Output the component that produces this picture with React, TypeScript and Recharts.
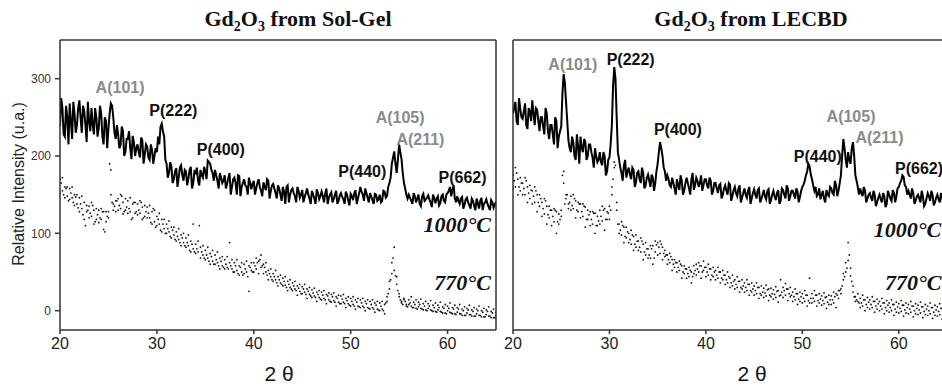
import React from 'react';
import { ComposedChart, Line, XAxis, YAxis, ReferenceDot } from 'recharts';

// XRD scans, sampled every 0.25° from 2θ = 20 to 65
const THETA_START = 20;
const THETA_STEP = 0.25;

const solGel1000 = [
  238, 262, 225, 250, 268, 222, 255, 240, 272, 230, 258, 218, 245, 262, 228, 250,
  236, 255, 215, 245, 236, 268, 250, 222, 228, 214, 232, 205, 222, 210, 226, 200,
  215, 198, 220, 202, 212, 195, 208, 200, 205, 215, 242, 225, 190, 178, 186, 170,
  184, 172, 188, 168, 180, 170, 186, 165, 178, 168, 182, 172, 180, 194, 190, 178,
  182, 168, 178, 165, 175, 164, 178, 160, 172, 150, 174, 160, 170, 160, 172, 157,
  168, 158, 170, 155, 166, 156, 168, 154, 164, 152, 162, 150, 160, 138, 162, 150,
  158, 148, 160, 146, 156, 147, 158, 145, 155, 145, 157, 144, 154, 140, 158, 146,
  153, 144, 155, 142, 152, 144, 154, 142, 151, 143, 156, 145, 160, 150, 158, 146,
  152, 143, 151, 142, 150, 142, 154, 148, 165, 190, 206, 178, 215, 196, 165, 150,
  150, 142, 152, 140, 150, 135, 151, 144, 149, 140, 150, 139, 148, 139, 150, 140,
  152, 160, 156, 145, 148, 138, 147, 137, 146, 136, 145, 135, 145, 132, 146, 138,
  144, 134, 143, 133, 141,
];

// 1000°C readings half-way between the grid points (20.125 ... 64.875)
const solGel1000Half = [
  275, 228, 265, 215, 245, 270, 230, 262, 250, 265, 240, 270, 232, 240, 262, 225,
  265, 225, 250, 210, 255, 265, 230, 240, 210, 238, 200, 222, 232, 196, 218, 210,
  205, 224, 190, 215, 198, 215, 190, 210, 225, 238, 232, 195, 172, 192, 165, 180,
  160, 185, 175, 182, 162, 182, 158, 180, 185, 162, 175, 186, 170, 192, 182, 168,
  175, 158, 172, 168, 158, 172, 150, 170, 165, 175, 148, 165, 162, 150, 165, 164,
  150, 165, 160, 148, 160, 170, 145, 162, 158, 145, 158, 142, 154, 160, 140, 156,
  152, 140, 155, 150, 140, 152, 150, 138, 150, 138, 152, 148, 148, 152, 138, 150,
  140, 150, 138, 149, 147, 138, 150, 136, 148, 152, 138, 152, 154, 142, 152, 140,
  148, 138, 150, 144, 140, 155, 146, 160, 172, 198, 190, 195, 205, 178, 158, 145,
  146, 138, 148, 145, 138, 148, 142, 146, 144, 134, 146, 145, 136, 148, 142, 150,
  155, 148, 162, 140, 142, 145, 132, 144, 140, 132, 142, 130, 139, 142, 130, 140,
  138, 130, 140, 137,
];

const solGel770a = [
  170, 155, 160, 148, 158, 146, 150, 138, 146, 132, 140, 128, 135, 122, 130, 118,
  130, 118, 128, 115, 128, 150, 138, 128, 145, 132, 140, 130, 142, 128, 138, 126,
  138, 126, 134, 122, 134, 120, 128, 115, 122, 112, 118, 106, 112, 102, 108, 98,
  102, 92, 98, 88, 94, 84, 90, 80, 86, 76, 82, 72, 78, 68, 74, 64,
  72, 62, 68, 58, 66, 56, 62, 54, 62, 52, 58, 50, 60, 50, 58, 52,
  62, 54, 64, 56, 60, 50, 52, 44, 48, 40, 44, 36, 42, 33, 38, 30,
  36, 28, 32, 25, 31, 24, 28, 21, 27, 19, 24, 17, 24, 16, 21, 14,
  21, 13, 18, 11, 19, 11, 16, 9, 16, 8, 14, 6, 14, 6, 12, 4,
  12, 4, 10, 2, 10, 2, 8, 12, 28, 48, 52, 34, 18, 10, 14, 6,
  14, 6, 11, 3, 11, 3, 9, 1, 9, 1, 7, -1, 7, -1, 5, -3,
  6, -2, 4, -4, 4, -4, 2, -6, 3, -5, 1, -7, 2, -6, 0, -8,
  1, -7, -1, -9, -2,
];

const solGel770b = [
  152, 172, 146, 160, 144, 160, 136, 150, 128, 148, 118, 136, 120, 140, 112, 132,
  114, 132, 105, 128, 120, 182, 130, 142, 130, 150, 125, 145, 126, 146, 120, 140,
  124, 142, 118, 136, 120, 136, 112, 130, 110, 126, 102, 118, 100, 116, 94, 108,
  90, 106, 84, 100, 82, 98, 76, 112, 74, 90, 68, 84, 66, 82, 60, 78,
  60, 76, 54, 70, 54, 70, 88, 66, 50, 66, 46, 62, 48, 64, 25, 62,
  50, 68, 48, 72, 48, 62, 40, 54, 38, 52, 32, 46, 32, 44, 26, 40,
  26, 38, 20, 34, 22, 34, 16, 30, 17, 29, 12, 26, 14, 26, 9, 23,
  11, 23, 6, 20, 9, 21, 4, 18, 6, 18, 2, 16, 4, 16, 0, 14,
  2, 14, -2, 12, 0, 12, -4, 18, 38, 62, 82, 44, 22, 12, 16, 8,
  8, 18, 4, 14, 5, 15, 1, 12, 3, 13, -1, 10, 1, 11, -3, 8,
  0, 10, -4, 7, -2, 8, -6, 5, -3, 7, -7, 4, -4, 6, -8, 3,
  -5, 5, -9, 2, -6,
];

// extra 770°C readings half-way between the grid points (20.125 ... 64.875)
const solGel770c = [
  165, 150, 158, 142, 152, 140, 147, 133, 138, 124, 110, 130, 126, 136, 115, 124,
  120, 128, 102, 122, 190, 140, 135, 142, 136, 148, 128, 134, 132, 118, 140, 128,
  130, 140, 120, 128, 126, 114, 132, 108, 118, 104, 112, 100, 106, 96, 104, 92,
  96, 88, 94, 84, 88, 78, 86, 76, 80, 110, 76, 68, 72, 64, 70, 60,
  66, 58, 64, 56, 60, 54, 58, 50, 58, 48, 56, 46, 54, 44, 56, 50,
  58, 62, 66, 58, 56, 46, 48, 40, 44, 36, 40, 34, 38, 30, 34, 28,
  32, 26, 29, 22, 28, 21, 25, 19, 23, 17, 21, 15, 20, 14, 19, 12,
  18, 11, 16, 9, 15, 9, 13, 7, 12, 6, 11, 5, 10, 4, 9, 3,
  8, 2, 7, 1, 6, 0, 10, 22, 40, 68, 45, 26, 14, 8, 12, 5,
  10, 4, 8, 2, 8, 2, 6, 0, 6, 0, 4, -2, 4, -2, 3, -4,
  3, -3, 2, -5, 2, -4, 0, -6, 1, -5, -1, -7, 0, -6, -2, -8,
  -1, -7, -3, -9,
];

const lecbd1000 = [
  255, 270, 240, 262, 248, 268, 235, 258, 272, 240, 260, 232, 250, 228, 255, 222,
  240, 215, 245, 225, 238, 306, 270, 220, 205, 218, 195, 212, 225, 205, 218, 200,
  215, 198, 210, 192, 205, 188, 200, 180, 198, 240, 315, 250, 195, 178, 188, 172,
  185, 170, 182, 166, 180, 165, 178, 162, 176, 160, 172, 165, 190, 218, 200, 180,
  175, 162, 172, 158, 170, 156, 168, 155, 172, 158, 170, 156, 172, 160, 175, 162,
  170, 158, 168, 155, 165, 152, 164, 150, 162, 150, 163, 148, 160, 148, 162, 146,
  158, 146, 160, 145, 157, 145, 158, 144, 156, 144, 157, 143, 155, 143, 156, 142,
  156, 145, 158, 148, 155, 145, 154, 147, 160, 168, 180, 187, 170, 155, 148, 158,
  150, 145, 156, 148, 158, 150, 162, 155, 175, 222, 195, 205, 190, 218, 175, 160,
  158, 148, 155, 145, 152, 142, 150, 140, 150, 140, 148, 138, 150, 142, 152, 148,
  160, 168, 173, 160, 155, 145, 152, 142, 150, 140, 148, 138, 152, 142, 150, 140,
  150, 140, 148, 138, 145,
];

const lecbd1000Half = [
  262, 245, 275, 250, 258, 240, 262, 245, 255, 262, 245, 250, 238, 262, 232, 240,
  228, 250, 210, 232, 280, 295, 245, 210, 225, 200, 228, 190, 210, 222, 195, 215,
  205, 185, 200, 195, 192, 205, 175, 195, 215, 290, 300, 205, 185, 168, 195, 180,
  176, 185, 160, 178, 170, 185, 158, 172, 168, 176, 155, 180, 205, 210, 185, 168,
  170, 160, 165, 150, 162, 175, 150, 165, 165, 150, 178, 162, 168, 165, 155, 170,
  162, 172, 150, 165, 158, 162, 145, 158, 155, 165, 142, 156, 152, 158, 140, 152,
  150, 155, 138, 152, 150, 156, 140, 150, 148, 155, 138, 150, 148, 152, 138, 158,
  150, 162, 142, 155, 150, 158, 140, 155, 163, 175, 190, 176, 162, 160, 150, 144,
  155, 140, 150, 160, 152, 168, 148, 165, 200, 210, 185, 195, 210, 200, 168, 150,
  152, 160, 140, 150, 146, 155, 135, 146, 144, 152, 134, 155, 145, 156, 140, 158,
  165, 175, 162, 150, 150, 158, 138, 148, 145, 155, 135, 145, 148, 155, 136, 146,
  144, 152, 135, 142,
];

const lecbd770a = [
  175, 160, 170, 155, 165, 150, 160, 145, 155, 140, 150, 135, 140, 125, 135, 120,
  130, 115, 128, 112, 130, 165, 145, 132, 148, 132, 142, 128, 138, 122, 134, 118,
  128, 112, 126, 110, 130, 116, 132, 118, 135, 160, 185, 130, 112, 98, 108, 94,
  100, 86, 96, 82, 90, 76, 86, 72, 80, 68, 84, 76, 88, 74, 82, 70,
  72, 62, 66, 56, 62, 52, 58, 48, 54, 44, 50, 48, 60, 50, 58, 52,
  56, 46, 54, 44, 52, 42, 50, 40, 46, 36, 42, 32, 40, 30, 38, 28,
  36, 26, 34, 24, 32, 22, 30, 20, 29, 19, 28, 18, 27, 17, 26, 20,
  30, 20, 28, 18, 24, 14, 22, 12, 22, 12, 20, 10, 22, 12, 20, 10,
  19, 9, 18, 8, 19, 10, 22, 16, 28, 40, 50, 65, 45, 24, 18, 12,
  16, 6, 14, 4, 14, 4, 12, 2, 12, 2, 10, 0, 10, 0, 8, -2,
  9, -1, 7, -3, 8, -2, 6, -4, 7, -3, 5, -5, 6, -4, 4, -6,
  5, -5, 3, -7, 2,
];

const lecbd770b = [
  158, 185, 150, 172, 150, 172, 140, 162, 138, 160, 128, 150, 122, 145, 112, 135,
  110, 132, 100, 125, 122, 180, 150, 138, 130, 150, 120, 140, 120, 138, 108, 130,
  110, 128, 100, 122, 112, 135, 104, 128, 118, 150, 192, 140, 100, 115, 88, 108,
  88, 104, 78, 98, 78, 94, 66, 88, 68, 84, 60, 90, 72, 90, 66, 78,
  60, 74, 52, 66, 50, 64, 42, 58, 42, 56, 36, 58, 46, 62, 42, 64,
  44, 60, 40, 56, 40, 56, 36, 52, 34, 50, 30, 46, 28, 44, 24, 40,
  24, 40, 20, 36, 20, 36, 16, 32, 17, 33, 13, 29, 15, 31, 11, 40,
  17, 35, 13, 30, 12, 28, 8, 24, 10, 26, 6, 42, 10, 26, 6, 22,
  7, 23, 3, 20, 8, 24, 4, 26, 22, 48, 62, 88, 55, 32, 12, 22,
  4, 20, 0, 17, 2, 18, -2, 15, 0, 16, -4, 13, -2, 14, -6, 11,
  -3, 13, -7, 10, -4, 12, -8, 9, -5, 11, -9, 8, -6, 10, -10, 7,
  -7, 9, -11, 6, -8,
];

const lecbd770c = [
  168, 178, 160, 165, 158, 168, 152, 156, 148, 155, 140, 145, 132, 142, 124, 130,
  122, 130, 115, 118, 175, 138, 150, 140, 136, 145, 130, 138, 128, 135, 118, 124,
  118, 126, 110, 116, 122, 130, 118, 126, 130, 170, 188, 112, 104, 110, 96, 102,
  92, 98, 86, 90, 82, 90, 76, 80, 72, 80, 68, 85, 82, 86, 74, 72,
  66, 70, 60, 62, 56, 60, 50, 54, 48, 52, 44, 52, 54, 58, 50, 56,
  50, 54, 46, 50, 46, 50, 42, 46, 40, 44, 36, 38, 34, 38, 30, 32,
  30, 34, 26, 28, 26, 30, 22, 24, 23, 27, 20, 22, 21, 25, 19, 24,
  26, 28, 22, 20, 18, 22, 15, 18, 16, 20, 13, 16, 16, 20, 13, 15,
  13, 17, 11, 14, 14, 18, 20, 26, 32, 44, 55, 72, 38, 18, 14, 10,
  10, 14, 8, 11, 8, 12, 6, 9, 6, 10, 4, 7, 4, 8, 2, 5,
  3, 7, 1, 4, 2, 6, 0, 3, 1, 5, -1, 2, 0, 4, -2, 1,
  -1, 3, -3, 0,
];

const xTicks = [20, 30, 40, 50, 60];
const yTicks = [0, 100, 200, 300];
const yMinorTicks = [50, 150, 250];
const frameTicks = [0, 50, 100, 150, 200, 250, 300];
const lecbdSideTicks = [
  -14, -3, 8, 19, 30, 41, 52, 63, 74, 85, 96, 107, 118, 129, 140, 151, 162,
  173, 184, 195, 206, 217, 228, 239, 250, 261, 272, 283, 294, 305, 316, 327, 338,
];

// peak labels, anatase (A) grey, perovskite/bixbyite (P) black
const solGelPeaks = [
  { label: 'A(101)', x: 26.2, y: 289, phase: 'A' },
  { label: 'P(222)', x: 31.7, y: 259, phase: 'P' },
  { label: 'P(400)', x: 36.6, y: 209, phase: 'P' },
  { label: 'P(440)', x: 51.2, y: 180, phase: 'P' },
  { label: 'A(105)', x: 55.1, y: 250, phase: 'A' },
  { label: 'A(211)', x: 57.2, y: 222, phase: 'A' },
  { label: 'P(662)', x: 61.55, y: 173, phase: 'P' },
];
const lecbdPeaks = [
  { label: 'A(101)', x: 26.2, y: 319, phase: 'A' },
  { label: 'P(222)', x: 32.2, y: 325, phase: 'P' },
  { label: 'P(400)', x: 37.1, y: 234, phase: 'P' },
  { label: 'P(440)', x: 51.6, y: 200, phase: 'P' },
  { label: 'A(105)', x: 55.05, y: 251, phase: 'A' },
  { label: 'A(211)', x: 58.0, y: 224, phase: 'A' },
  { label: 'P(662)', x: 62.1, y: 184, phase: 'P' },
];
const solGelTemps = [
  { label: '1000°C', x: 61.0, y: 112 },
  { label: '770°C', x: 61.55, y: 37 },
];
const lecbdTemps = [
  { label: '1000°C', x: 60.9, y: 105 },
  { label: '770°C', x: 61.5, y: 37 },
];

const buildRows = (a: number[], b: number[]) =>
  a.map((v, i) => ({ t: THETA_START + i * THETA_STEP, a: v, b: b[i] }));
const buildHalfRows = (c: number[]) =>
  c.map((v, i) => ({ t: THETA_START + (i + 0.5) * THETA_STEP, c: v }));
// grid readings and half-step readings merged in 2θ order
const buildScan = (grid: number[], half: number[]) =>
  grid.flatMap((v, i) => {
    const t = THETA_START + i * THETA_STEP;
    return i < half.length
      ? [{ t, hot: v }, { t: t + THETA_STEP / 2, hot: half[i] }]
      : [{ t, hot: v }];
  });

const solGelRows = buildRows(solGel770a, solGel770b);
const lecbdRows = buildRows(lecbd770a, lecbd770b);
const solGelHalf = buildHalfRows(solGel770c);
const lecbdHalf = buildHalfRows(lecbd770c);
const solGelScan = buildScan(solGel1000, solGel1000Half);
const lecbdScan = buildScan(lecbd1000, lecbd1000Half);

const SANS = '"Liberation Sans", Arial, sans-serif';
const SERIF = '"Liberation Serif", "Times New Roman", serif';
const AXIS = '#333';
const DOMAIN: [number, number] = [-25, 350];

interface PanelProps {
  rows: { t: number; a: number; b: number }[];
  half: { t: number; c: number }[];
  scan: { t: number; hot: number }[];
  peaks: { label: string; x: number; y: number; phase: string }[];
  temps: { label: string; x: number; y: number }[];
  width: number;
  margin: { top: number; right: number; bottom: number; left: number };
  labelled: boolean;
}

const dotStyle = { r: 0.9, fill: '#111', stroke: 'none' };

const XrdPanel = ({ rows, half, scan, peaks, temps, width, margin, labelled }: PanelProps) => (
  <ComposedChart width={width} height={388} data={rows} margin={margin}>
    <XAxis
      xAxisId="b"
      dataKey="t"
      type="number"
      domain={[20, 65]}
      ticks={xTicks}
      allowDataOverflow
      height={30}
      stroke={AXIS}
      strokeWidth={1.5}
      tickSize={4}
      tickMargin={4}
      tick={{ fill: '#222', fontSize: 16, fontFamily: SANS }}
    />
    <XAxis
      xAxisId="top"
      orientation="top"
      dataKey="t"
      type="number"
      domain={[20, 65]}
      ticks={xTicks}
      allowDataOverflow
      height={1}
      tick={false}
      tickLine={false}
      stroke={AXIS}
      strokeWidth={1.5}
    />
    {labelled ? (
      <YAxis
        yAxisId="minor"
        type="number"
        domain={DOMAIN}
        allowDataOverflow
        ticks={yMinorTicks}
        width={1}
        tick={false}
        axisLine={false}
        tickSize={3}
        stroke={AXIS}
      />
    ) : null}
    <YAxis
      yAxisId="l"
      type="number"
      domain={DOMAIN}
      allowDataOverflow
      ticks={labelled ? yTicks : lecbdSideTicks}
      width={labelled ? 59 : 1}
      tick={labelled ? { fill: '#333', fontSize: 12, fontFamily: SANS } : false}
      tickSize={labelled ? 5 : 4}
      tickMargin={4}
      stroke={AXIS}
      strokeWidth={1.5}
    />
    <YAxis
      yAxisId="r"
      orientation="right"
      type="number"
      domain={DOMAIN}
      allowDataOverflow
      ticks={frameTicks}
      mirror
      width={1}
      tick={false}
      tickSize={5}
      stroke={AXIS}
      strokeWidth={1.5}
    />
    {labelled ? (
      <Line
        xAxisId="b"
        yAxisId="minor"
        dataKey="a"
        stroke="none"
        dot={false}
        activeDot={false}
        legendType="none"
        isAnimationActive={false}
      />
    ) : null}
    <Line
      xAxisId="b"
      yAxisId="l"
      dataKey="a"
      stroke="none"
      dot={dotStyle}
      activeDot={false}
      isAnimationActive={false}
    />
    <Line
      xAxisId="top"
      yAxisId="r"
      dataKey="b"
      stroke="none"
      dot={dotStyle}
      activeDot={false}
      isAnimationActive={false}
    />
    <Line
      xAxisId="b"
      yAxisId="l"
      data={half}
      dataKey="c"
      stroke="none"
      dot={dotStyle}
      activeDot={false}
      isAnimationActive={false}
    />
    <Line
      xAxisId="b"
      yAxisId="l"
      data={scan}
      dataKey="hot"
      type="linear"
      stroke="#000"
      strokeWidth={2}
      strokeLinejoin="miter"
      dot={false}
      activeDot={false}
      isAnimationActive={false}
    />
    {peaks.map((p) => (
      <ReferenceDot
        key={p.label}
        xAxisId="b"
        yAxisId="l"
        x={p.x}
        y={p.y}
        r={0}
        fill="none"
        stroke="none"
        label={{
          value: p.label,
          position: 'center',
          fill: p.phase === 'A' ? '#8a8a8a' : '#111',
          fontSize: 16,
          fontWeight: 'bold',
          fontFamily: SANS,
        }}
      />
    ))}
    {temps.map((p) => (
      <ReferenceDot
        key={p.label}
        xAxisId="b"
        yAxisId="l"
        x={p.x}
        y={p.y}
        r={0}
        fill="none"
        stroke="none"
        label={{
          value: p.label,
          position: 'center',
          fill: '#111',
          fontSize: 22,
          fontWeight: 'bold',
          fontStyle: 'italic',
          fontFamily: SERIF,
        }}
      />
    ))}
  </ComposedChart>
);

const Title = ({ name, center }: { name: string; center: number }) => (
  <div
    style={{
      position: 'absolute',
      left: center - 150,
      width: 300,
      top: 6,
      textAlign: 'center',
      fontFamily: SERIF,
      fontWeight: 'bold',
      fontSize: 22,
      color: '#111',
      whiteSpace: 'nowrap',
    }}
  >
    Gd<sub style={{ fontSize: 14 }}>2</sub>O<sub style={{ fontSize: 14 }}>3</sub> from {name}
  </div>
);

const ThetaLabel = ({ center }: { center: number }) => (
  <div
    style={{
      position: 'absolute',
      left: center - 40,
      width: 80,
      top: 362,
      textAlign: 'center',
      fontFamily: SANS,
      fontSize: 21,
      color: '#111',
      lineHeight: '24px',
    }}
  >
    2 θ
  </div>
);

export default function App() {
  return (
    <div
      style={{
        position: 'absolute',
        left: 0,
        top: 0,
        width: 942,
        height: 388,
        overflow: 'hidden',
        background: '#fff',
      }}
    >
      <div style={{ position: 'absolute', left: 0, top: 0 }}>
        <XrdPanel
          rows={solGelRows}
          half={solGelHalf}
          scan={solGelScan}
          peaks={solGelPeaks}
          temps={solGelTemps}
          width={500}
          margin={{ top: 39, right: 4, bottom: 28, left: 0 }}
          labelled
        />
      </div>
      <div style={{ position: 'absolute', left: 500, top: 0 }}>
        <XrdPanel
          rows={lecbdRows}
          half={lecbdHalf}
          scan={lecbdScan}
          peaks={lecbdPeaks}
          temps={lecbdTemps}
          width={450}
          margin={{ top: 39, right: 3, bottom: 28, left: 12 }}
          labelled={false}
        />
      </div>
      <Title name="Sol-Gel" center={298} />
      <Title name="LECBD" center={751} />
      <ThetaLabel center={279} />
      <ThetaLabel center={752} />
      <div
        style={{
          position: 'absolute',
          left: 19 - 110,
          top: 184 - 10,
          width: 220,
          height: 20,
          lineHeight: '20px',
          textAlign: 'center',
          transform: 'rotate(-90deg)',
          fontFamily: SANS,
          fontSize: 16,
          color: '#222',
        }}
      >
        Relative Intensity (u.a.)
      </div>
    </div>
  );
}
